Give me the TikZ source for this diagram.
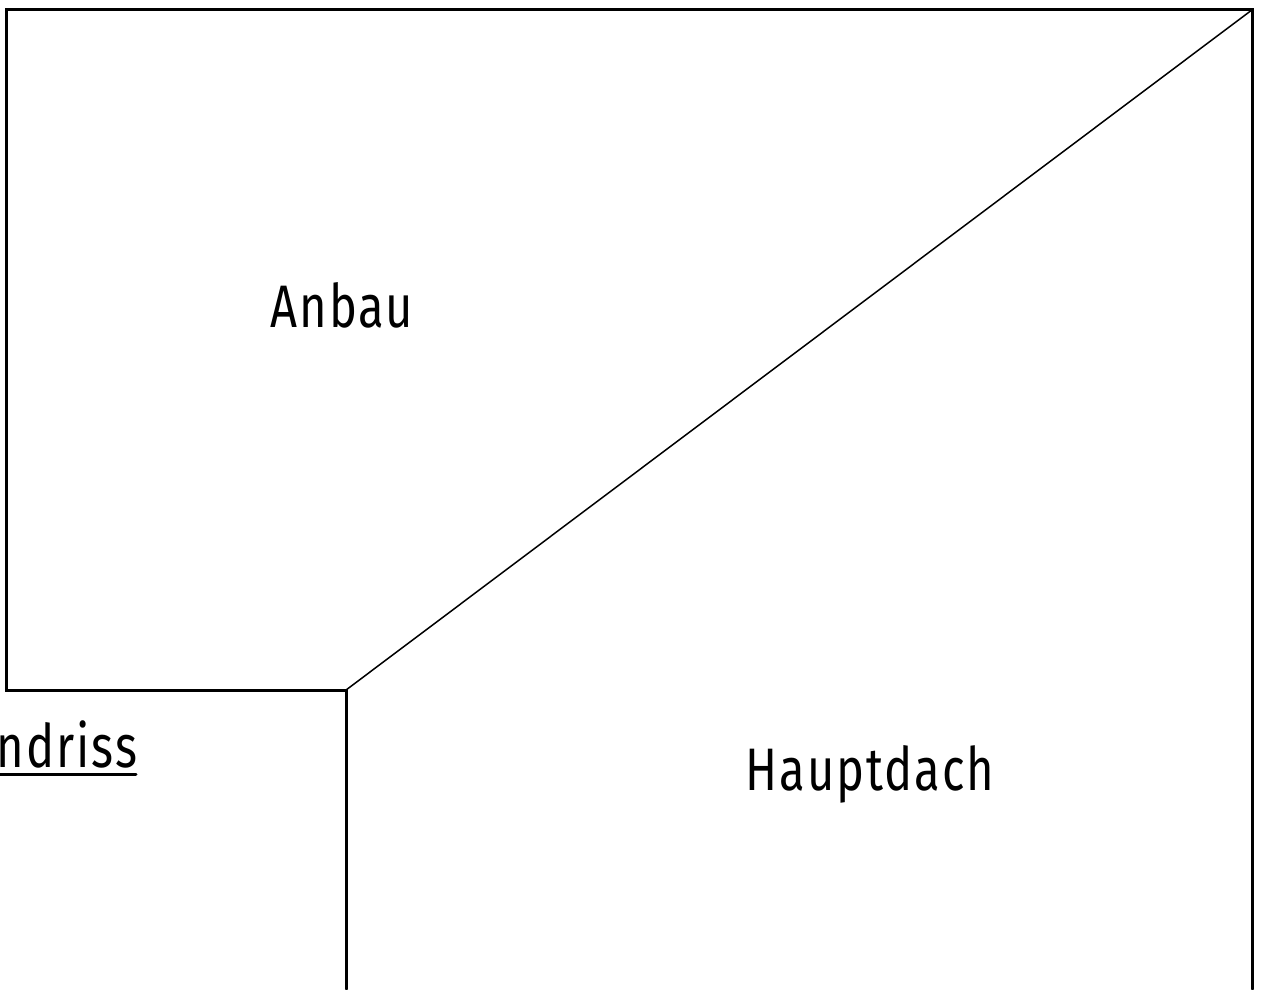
\documentclass[tikz,border=0pt]{standalone}
\usepackage{fontspec}
\setmainfont[LetterSpace=4]{Fira Sans}
\tikzset{
  heavy/.style={draw=black,line width=3pt,line cap=round,line join=miter},
  thin line/.style={draw=black,line width=1.5pt,line cap=round},
  cad/.style={inner sep=0pt,outer sep=0pt,anchor=base,text=black,font=\fontsize{60}{60}\selectfont,transform shape,xscale=0.785}
}
\begin{document}
\begin{tikzpicture}[x=1pt,y=-1pt]
\useasboundingbox (0,0) rectangle (1261,989);
\clip (0,0) rectangle (1261,989);
\coordinate (tl) at (6,9.5);
\coordinate (tr) at (1252.5,9.5);
\coordinate (br) at (1252.5,989);
\coordinate (bl) at (6,690);
\coordinate (in) at (346,690);
\coordinate (inb) at (346,989);
\coordinate (ul) at (0,774);
\coordinate (ur) at (136,774);
\draw[heavy] (br) -- (tr) -- (tl) -- (bl) -- (in) -- (inb);
\draw[thin line] (in) -- (tr);
\draw[heavy] (ul) -- (ur);
\node[cad] (anbau) at (342,327.5) {Anbau};
\node[cad] (haupt) at (870,790.5) {Hauptdach};
\node[cad,anchor=base east] (grund) at (137,767.5) {ndriss};
\end{tikzpicture}
\end{document}
